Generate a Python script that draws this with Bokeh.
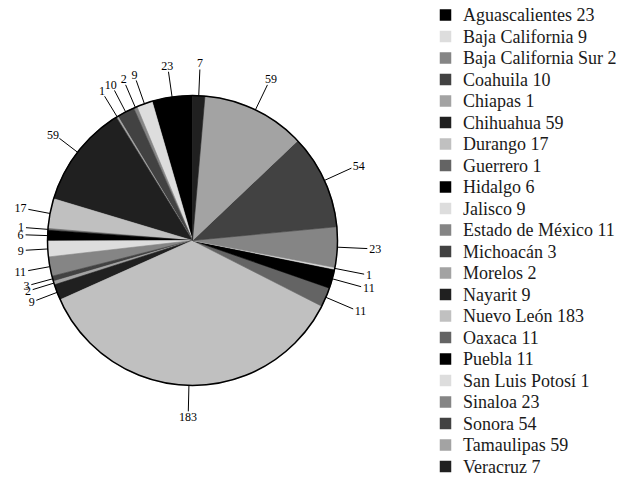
import numpy as np
from bokeh.plotting import figure
from bokeh.models import ColumnDataSource, Range1d
from bokeh.core.properties import value
from bokeh.embed import file_html
from bokeh.resources import INLINE

# ---- data ----
states = ["Aguascalientes", "Baja California", "Baja California Sur", "Coahuila",
          "Chiapas", "Chihuahua", "Durango", "Guerrero", "Hidalgo", "Jalisco",
          "Estado de México", "Michoacán", "Morelos", "Nayarit", "Nuevo León",
          "Oaxaca", "Puebla", "San Luis Potosí", "Sinaloa", "Sonora",
          "Tamaulipas", "Veracruz"]
counts = [23, 9, 2, 10, 1, 59, 17, 1, 6, 9, 11, 3, 2, 9, 183, 11, 11, 1, 23, 54, 59, 7]
gray_cycle = ["#000000", "#dddddd", "#858585", "#424242", "#a3a3a3", "#202020", "#c0c0c0", "#646464"]

# ---- layout (pixels, y measured from the bottom of the canvas) ----
W, H = 620, 476
cx, cy, R = 192, H - 240, 145
FONT = "Liberation Serif"

vals = np.array(counts, dtype=float)
total = vals.sum()
cum = np.concatenate([[0], np.cumsum(vals)])
start = np.pi / 2 + 2 * np.pi * cum[:-1] / total
end = np.pi / 2 + 2 * np.pi * cum[1:] / total
mid = (start + end) / 2
colors = [gray_cycle[i % len(gray_cycle)] for i in range(len(counts))]
labels = [str(c) for c in counts]

cosm, sinm = np.cos(mid), np.sin(mid)
r_end = 171 + 4 * cosm
x1, y1 = cx + r_end * cosm, cy + r_end * sinm
half_w = np.array([3.0 * len(s) for s in labels])
half_h = 4.0
lx = x1 + cosm * (half_w + 2)
ly = y1 + sinm * (half_h + 2)

src = ColumnDataSource(dict(
    start=start, end=end, color=colors,
    x0=cx + R * cosm, y0=cy + R * sinm, x1=x1, y1=y1,
    lx=lx, ly=ly, lab=labels,
))

p = figure(width=W, height=H, x_range=Range1d(0, W), y_range=Range1d(0, H),
           output_backend="svg", toolbar_location=None, min_border=0)
p.axis.visible = False
p.grid.visible = False
p.outline_line_color = None
p.background_fill_color = "white"

p.wedge(x=cx, y=cy, radius=R, start_angle="start", end_angle="end",
        direction="anticlock", fill_color="color", line_color="color",
        line_width=0.6, source=src)
p.circle(x=[cx], y=[cy], radius=R, fill_color=None, line_color="black", line_width=1.5)
p.segment(x0="x0", y0="y0", x1="x1", y1="y1", line_color="black", line_width=1, source=src)
p.text(x="lx", y="ly", text="lab", text_align="center", text_baseline="middle",
       text_font=value(FONT), text_font_size="12px", text_color="black", source=src)

# ---- legend ----
n = len(states)
row_top, row_gap = H - 14.5, 21.5
leg_y = row_top - row_gap * np.arange(n)
leg = ColumnDataSource(dict(
    y=leg_y, color=colors,
    txt=[f"{s} {c}" for s, c in zip(states, counts)],
))
p.rect(x=445, y="y", width=11.5, height=11.5, fill_color="color", line_color=None, source=leg)
p.text(x=462.5, y="y", text="txt", text_align="left", text_baseline="middle",
       text_font=value(FONT), text_font_size="18px", text_color="#1a1a1a", source=leg)

open("out.html", "w").write(file_html(p, INLINE))
